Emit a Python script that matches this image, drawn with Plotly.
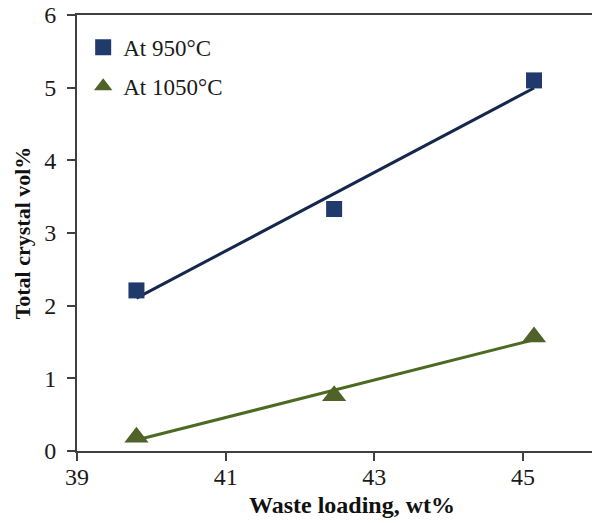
import numpy as np
import plotly.graph_objects as go

# Data
waste_loading = [39.8, 42.46, 45.15]
vol_950 = [2.21, 3.33, 5.10]
vol_1050 = [0.19, 0.76, 1.57]
x_ticks = [39, 41, 43, 45]
y_ticks = [0, 1, 2, 3, 4, 5, 6]

BLUE = "#1F3A6B"
BLUE_LINE = "#14284D"
GREEN = "#4F6228"
GREEN_LINE = "#4C6A22"
FONT = "Liberation Serif"

fig = go.Figure()

# linear trend lines (least squares fits of each series)
xs = np.array(waste_loading)
for ys, col in [(vol_950, BLUE_LINE), (vol_1050, GREEN_LINE)]:
    k, b = np.polyfit(xs, np.array(ys), 1)
    xl = [xs.min(), xs.max()]
    fig.add_trace(go.Scatter(x=xl, y=[k * v + b for v in xl], mode="lines",
                             line=dict(color=col, width=3), showlegend=False,
                             hoverinfo="skip"))

fig.add_trace(go.Scatter(x=waste_loading, y=vol_950, mode="markers",
                         name="At 950°C", legendgroup="a",
                         marker=dict(symbol="square", size=16, color=BLUE)))
fig.add_trace(go.Scatter(x=waste_loading, y=vol_1050, mode="markers",
                         name="At 1050°C", legendgroup="b",
                         marker=dict(symbol="triangle-up", size=21, color=GREEN)))

axis_common = dict(showline=True, linecolor="#404040", linewidth=2,
                   ticks="outside", ticklen=8, tickwidth=2, tickcolor="#404040",
                   showgrid=False, zeroline=False,
                   tickfont=dict(family=FONT, size=24, color="#1a1a1a"))

fig.update_xaxes(range=[39, 45.93], tickvals=x_ticks, mirror=True,
                 ticklabelstandoff=-5, **axis_common)
fig.update_yaxes(range=[0, 6], tickvals=y_ticks, ticklabelstandoff=6,
                 title=dict(text="<b>Total crystal vol%</b>", standoff=8,
                            font=dict(family=FONT, size=22, color="#111111")),
                 **axis_common)

fig.add_annotation(text="<b>Waste loading, wt%</b>", xref="paper", yref="paper",
                   x=0.534, y=-0.124, xanchor="center", yanchor="middle",
                   showarrow=False,
                   font=dict(family=FONT, size=24, color="#111111"))

fig.update_layout(
    width=592, height=523,
    margin=dict(l=77, r=0, t=15, b=72),
    plot_bgcolor="white", paper_bgcolor="white",
    legend=dict(x=0.012, y=0.975, xanchor="left", yanchor="top",
                font=dict(family=FONT, size=23, color="#1a1a1a"),
                bgcolor="rgba(0,0,0,0)", tracegroupgap=6,
                itemwidth=30),
)

fig.write_html("out.html")
